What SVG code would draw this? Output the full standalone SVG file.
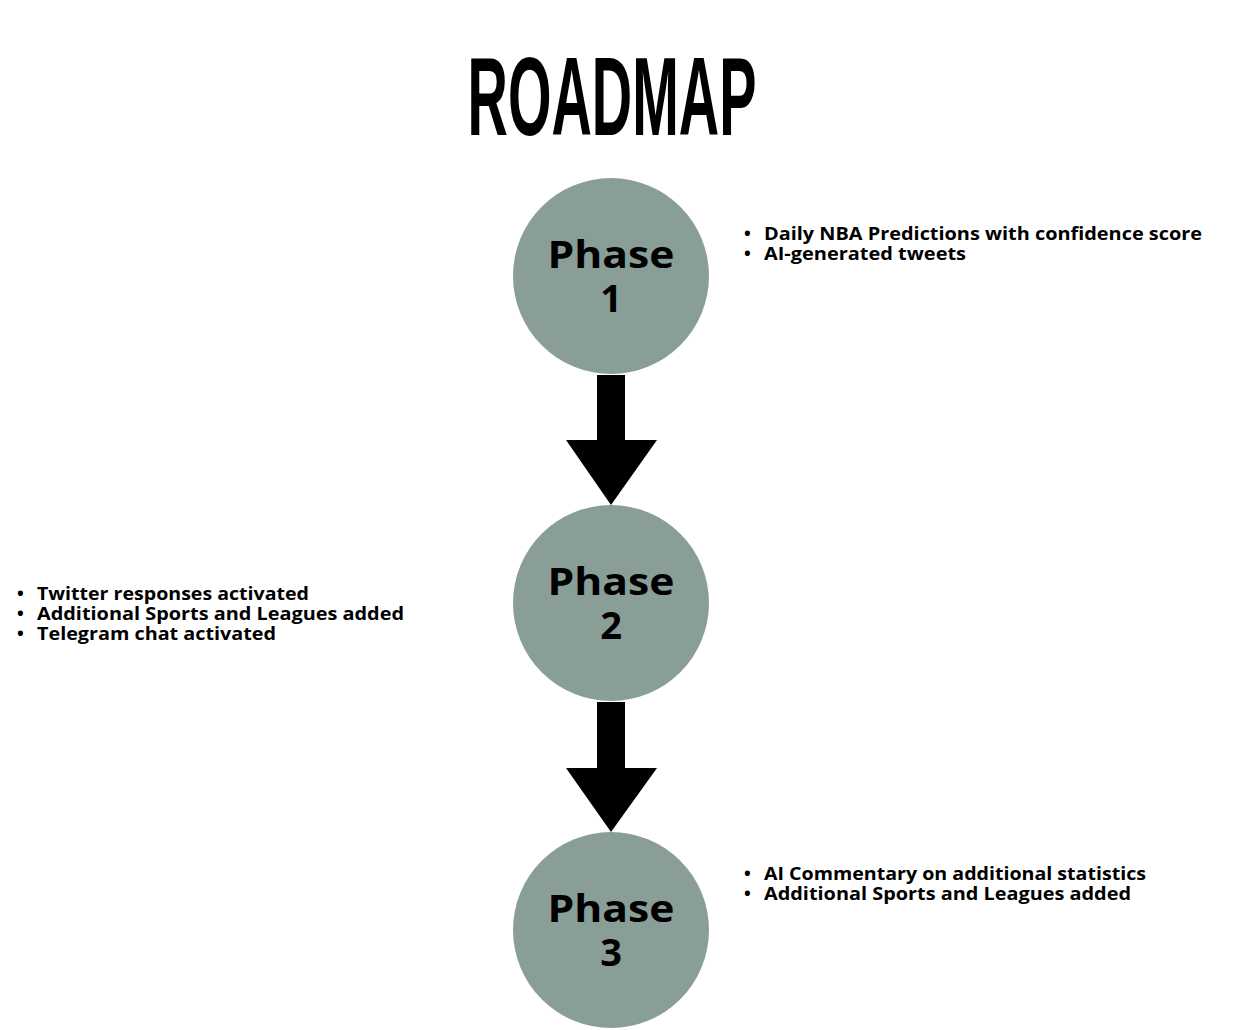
<svg xmlns="http://www.w3.org/2000/svg" width="1247" height="1030" viewBox="0 0 1247 1030">
<style>
.c{fill:#8a9e98}
.p{font-family:"Open Sans","DejaVu Sans",sans-serif;font-weight:bold;font-size:38px;fill:#000;text-anchor:middle}
.b{font-family:"Open Sans","DejaVu Sans",sans-serif;font-weight:bold;font-size:18px;fill:#000}
</style>
<rect width="1247" height="1030" fill="#fff"/>
<text x="612" y="135" font-family="Liberation Sans,sans-serif" font-weight="bold" font-size="112" text-anchor="middle" textLength="289" lengthAdjust="spacingAndGlyphs">ROADMAP</text>
<g id="connectors" fill="#000">
<polygon points="597,375 625,375 625,440 657,440 611,505 566,440 597,440"/>
<polygon points="597,702 625,702 625,768 657,768 611,832 566,768 597,768"/>
</g>
<g id="phase1"><circle class="c" cx="611" cy="276" r="98"/><text class="p" x="611" y="268" textLength="127" lengthAdjust="spacingAndGlyphs">Phase</text><text class="p" x="611" y="312">1</text></g>
<g id="phase2"><circle class="c" cx="611" cy="603" r="98"/><text class="p" x="611" y="595" textLength="127" lengthAdjust="spacingAndGlyphs">Phase</text><text class="p" x="611" y="639">2</text></g>
<g id="phase3"><circle class="c" cx="611" cy="930" r="98"/><text class="p" x="611" y="922" textLength="127" lengthAdjust="spacingAndGlyphs">Phase</text><text class="p" x="611" y="966">3</text></g>
<g id="notes1" class="b">
<text class="b" x="744" y="240">•</text><text class="b" x="764" y="240" textLength="438" lengthAdjust="spacingAndGlyphs">Daily NBA Predictions with confidence score</text>
<text class="b" x="744" y="260">•</text><text class="b" x="764" y="260" textLength="202" lengthAdjust="spacingAndGlyphs">AI-generated tweets</text>
</g>
<g id="notes2">
<text class="b" x="17" y="600">•</text><text class="b" x="37" y="600" textLength="272" lengthAdjust="spacingAndGlyphs">Twitter responses activated</text>
<text class="b" x="17" y="620">•</text><text class="b" x="37" y="620" textLength="367" lengthAdjust="spacingAndGlyphs">Additional Sports and Leagues added</text>
<text class="b" x="17" y="640">•</text><text class="b" x="37" y="640" textLength="239" lengthAdjust="spacingAndGlyphs">Telegram chat activated</text>
</g>
<g id="notes3">
<text class="b" x="744" y="880">•</text><text class="b" x="764" y="880" textLength="382" lengthAdjust="spacingAndGlyphs">AI Commentary on additional statistics</text>
<text class="b" x="744" y="900">•</text><text class="b" x="764" y="900" textLength="367" lengthAdjust="spacingAndGlyphs">Additional Sports and Leagues added</text>
</g>
</svg>
